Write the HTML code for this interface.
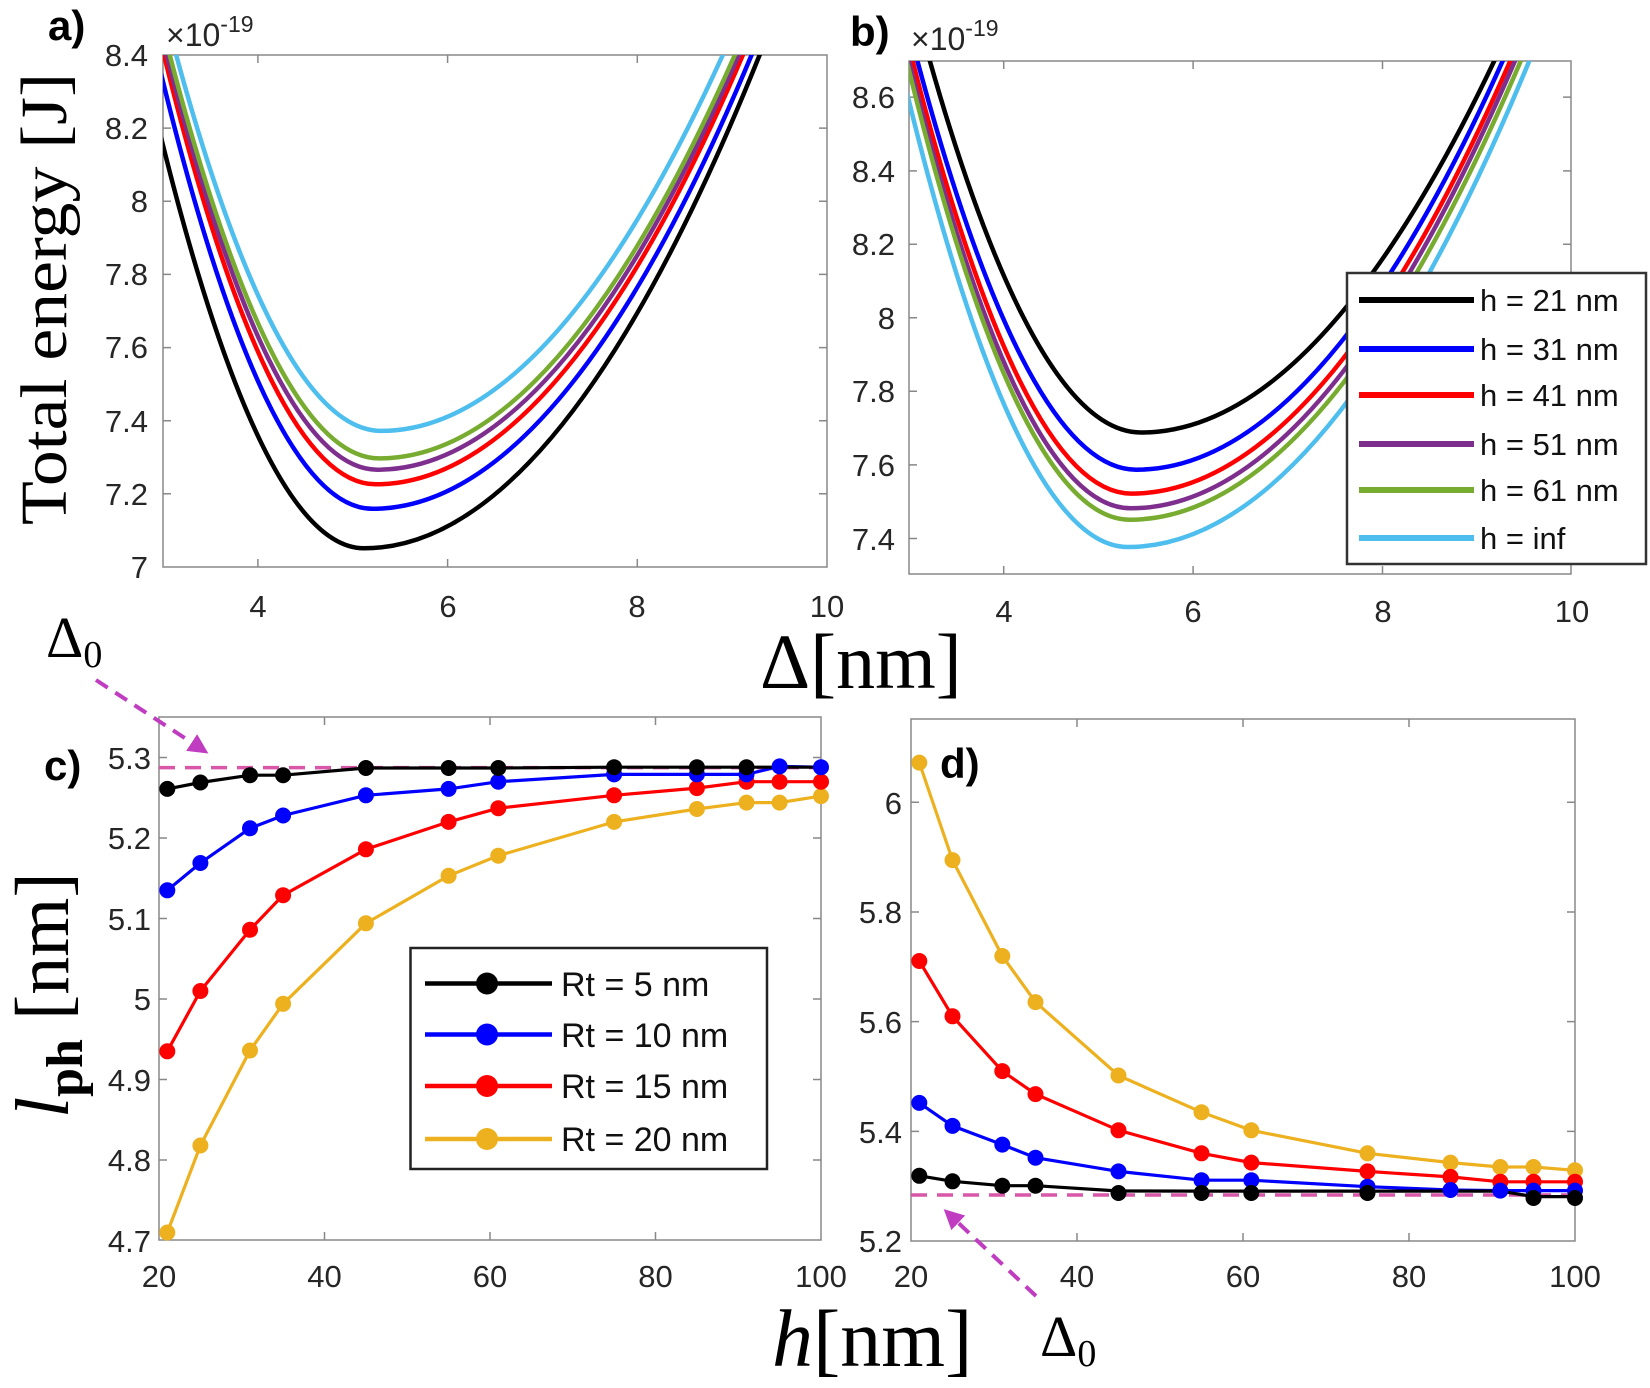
<!DOCTYPE html>
<html><head><meta charset="utf-8"><style>
html,body{margin:0;padding:0;background:#fff;}
svg{display:block;}
.tk{font-family:"Liberation Sans",sans-serif;font-size:31px;fill:#262626;}
.ser{font-family:"Liberation Serif",serif;fill:#000;}
.lg{font-family:"Liberation Sans",sans-serif;font-size:31px;fill:#111;}
.lab{font-family:"Liberation Sans",sans-serif;font-weight:bold;font-size:42px;fill:#000;}
</style></head><body>
<svg width="1650" height="1388" viewBox="0 0 1650 1388" xmlns="http://www.w3.org/2000/svg">
<defs>
<clipPath id="ca"><rect x="163" y="55" width="664" height="512"/></clipPath>
<clipPath id="cb"><rect x="909" y="61" width="662" height="513"/></clipPath>
<marker id="ah" markerWidth="5" markerHeight="5" refX="2.5" refY="2.5" orient="auto" markerUnits="strokeWidth"><path d="M0,0 L5,2.5 L0,5 z" fill="#c03cc0"/></marker>
</defs>

<!-- Panel a -->
<rect x="163" y="55" width="664" height="512" fill="#fff" stroke="#888" stroke-width="1.5"/>
<g stroke="#888" stroke-width="1.5">
<path d="M257.9,567v-8M447.6,567v-8M637.3,567v-8M257.9,55v8M447.6,55v8M637.3,55v8"/>
<path d="M163,128.1h8M163,201.3h8M163,274.4h8M163,347.6h8M163,420.7h8M163,493.8h8M827,128.1h-8M827,201.3h-8M827,274.4h-8M827,347.6h-8M827,420.7h-8M827,493.8h-8"/>
</g>
<g clip-path="url(#ca)" fill="none" stroke-width="4.5">
<path stroke="#000" d="M158.3,126.3 Q261.2,548.3 364.1,548.3 Q581.3,548.3 798.6,-47"/>
<path stroke="#0000ff" d="M158.3,62.3 Q265.4,508.8 372.6,508.8 Q585.6,508.8 798.6,-64.6"/>
<path stroke="#ff0000" d="M158.3,31.6 Q266.9,484.3 375.5,484.3 Q587,484.3 798.6,-85.1"/>
<path stroke="#7e2f8e" d="M158.3,21 Q267.8,469.7 377.4,469.7 Q588,469.7 798.6,-93.1"/>
<path stroke="#77ac30" d="M158.3,9.7 Q268.8,458.4 379.3,458.4 Q588.9,458.4 798.6,-102.6"/>
<path stroke="#4dbeee" d="M158.3,-13.4 Q269.7,430.9 381.2,430.9 Q589.9,430.9 798.6,-130.4"/>
</g>
<g class="tk" text-anchor="end">
<text x="148" y="66">8.4</text><text x="148" y="139">8.2</text><text x="148" y="212">8</text><text x="148" y="285">7.8</text><text x="148" y="358">7.6</text><text x="148" y="432">7.4</text><text x="148" y="505">7.2</text><text x="148" y="578">7</text>
</g>
<g class="tk" text-anchor="middle">
<text x="258" y="617">4</text><text x="448" y="617">6</text><text x="637" y="617">8</text><text x="827" y="617">10</text>
</g>
<text class="tk" x="166" y="46" style="font-size:32px">×10<tspan style="font-size:23px" dy="-14">-19</tspan></text>
<text class="lab" x="48" y="40">a)</text>
<text class="ser" font-size="66" transform="translate(66,525) rotate(-90)" textLength="452" lengthAdjust="spacingAndGlyphs">Total energy [J]</text>

<!-- Panel b -->
<rect x="909" y="61" width="662" height="513" fill="#fff" stroke="#888" stroke-width="1.5"/>
<g stroke="#888" stroke-width="1.5">
<path d="M1003.7,574v-8M1193.1,574v-8M1382.5,574v-8M1003.7,61v8M1193.1,61v8M1382.5,61v8"/>
<path d="M909,97.1h8M909,170.9h8M909,244.3h8M909,317.7h8M909,391.3h8M909,464.9h8M909,538.5h8M1571,97.1h-8M1571,170.9h-8M1571,244.3h-8M1571,317.7h-8M1571,391.3h-8M1571,464.9h-8M1571,538.5h-8"/>
</g>
<g clip-path="url(#cb)" fill="none" stroke-width="4.5">
<path stroke="#000" d="M904.3,-34.5 Q1022.6,432.5 1141,432.5 Q1342.3,432.5 1543.5,-49.9"/>
<path stroke="#0000ff" d="M904.3,10.4 Q1020.3,469.7 1136.3,469.7 Q1339.9,469.7 1543.5,-35.2"/>
<path stroke="#ff0000" d="M904.3,27.3 Q1017.9,493.6 1131.5,493.6 Q1337.5,493.6 1543.5,-18.3"/>
<path stroke="#7e2f8e" d="M904.3,41.7 Q1017.4,508.3 1130.6,508.3 Q1337,508.3 1543.5,-8"/>
<path stroke="#77ac30" d="M904.3,50.9 Q1017,519.7 1129.7,519.7 Q1336.6,519.7 1543.5,6"/>
<path stroke="#4dbeee" d="M904.3,81.8 Q1016,547 1127.8,547 Q1335.6,547 1543.5,25.9"/>
</g>
<g class="tk" text-anchor="end">
<text x="895" y="108">8.6</text><text x="895" y="182">8.4</text><text x="895" y="255">8.2</text><text x="895" y="329">8</text><text x="895" y="402">7.8</text><text x="895" y="476">7.6</text><text x="895" y="550">7.4</text>
</g>
<g class="tk" text-anchor="middle">
<text x="1004" y="622">4</text><text x="1193" y="622">6</text><text x="1383" y="622">8</text><text x="1572" y="622">10</text>
</g>
<text class="tk" x="911" y="50" style="font-size:32px">×10<tspan style="font-size:23px" dy="-14">-19</tspan></text>
<text class="lab" x="850" y="46">b)</text>
<!-- legend b -->
<rect x="1347" y="273" width="299" height="291" fill="#fff" stroke="#333" stroke-width="2.5"/>
<g stroke-width="6">
<path d="M1359,300h115" stroke="#000"/><path d="M1359,349h115" stroke="#0000ff"/><path d="M1359,395h115" stroke="#ff0000"/><path d="M1359,444h115" stroke="#7e2f8e"/><path d="M1359,490h115" stroke="#77ac30"/><path d="M1359,538h115" stroke="#4dbeee"/>
</g>
<g class="lg">
<text x="1480" y="311">h = 21 nm</text><text x="1480" y="360">h = 31 nm</text><text x="1480" y="406">h = 41 nm</text><text x="1480" y="455">h = 51 nm</text><text x="1480" y="501">h = 61 nm</text><text x="1480" y="549">h = inf</text>
</g>

<!-- Δ[nm] -->
<text class="ser" x="760" y="688" font-size="78">Δ[nm]</text>
<text class="ser" x="46" y="657" font-size="58">Δ<tspan font-size="38" dy="10">0</tspan></text>

<!-- Panel c -->
<rect x="159" y="717" width="662" height="523" fill="#fff" stroke="#888" stroke-width="1.5"/>
<g stroke="#888" stroke-width="1.5">
<path d="M324.5,1240v-8M490,1240v-8M655.5,1240v-8M324.5,717v8M490,717v8M655.5,717v8"/>
<path d="M159,757.5h8M159,838h8M159,918.5h8M159,999h8M159,1079.5h8M159,1160h8M821,757.5h-8M821,838h-8M821,918.5h-8M821,999h-8M821,1079.5h-8M821,1160h-8"/>
</g>
<path d="M96,680 L200,748" stroke="#c03cc0" stroke-width="4" stroke-dasharray="14,9" fill="none" marker-end="url(#ah)"/>
<path d="M159,767.6H821" stroke="#d957a8" stroke-width="3.5" stroke-dasharray="16,10"/>
<g fill="none" stroke-width="3.2">
<polyline stroke="#edb120" points="167.3,1232.5 200.4,1145.5 250,1050.5 283.1,1003.8 365.9,923.3 448.6,875.8 498.3,855.7 614.1,821.9 696.9,809 746.5,802.6 779.6,802.6 821,796.1"/>
<polyline stroke="#ff0000" points="167.3,1051.3 200.4,991 250,929.8 283.1,895.2 365.9,849.3 448.6,821.9 498.3,808.2 614.1,795.3 696.9,788.1 746.5,781.7 779.6,781.7 821,781.7"/>
<polyline stroke="#0000ff" points="167.3,890.3 200.4,863 250,828.3 283.1,815.5 365.9,795.3 448.6,788.9 498.3,781.7 614.1,774.4 696.9,774.4 746.5,774.4 779.6,766.4 821,767.2"/>
<polyline stroke="#000" points="167.3,788.9 200.4,782.5 250,775.2 283.1,775.2 365.9,768 448.6,768 498.3,768 614.1,767.2 696.9,767.2 746.5,767.2 779.6,767.2 821,767.2"/>
</g>
<g fill="#edb120"><circle cx="167.3" cy="1232.5" r="8"/><circle cx="200.4" cy="1145.5" r="8"/><circle cx="250" cy="1050.5" r="8"/><circle cx="283.1" cy="1003.8" r="8"/><circle cx="365.9" cy="923.3" r="8"/><circle cx="448.6" cy="875.8" r="8"/><circle cx="498.3" cy="855.7" r="8"/><circle cx="614.1" cy="821.9" r="8"/><circle cx="696.9" cy="809" r="8"/><circle cx="746.5" cy="802.6" r="8"/><circle cx="779.6" cy="802.6" r="8"/><circle cx="821" cy="796.1" r="8"/></g>
<g fill="#ff0000"><circle cx="167.3" cy="1051.3" r="8"/><circle cx="200.4" cy="991" r="8"/><circle cx="250" cy="929.8" r="8"/><circle cx="283.1" cy="895.2" r="8"/><circle cx="365.9" cy="849.3" r="8"/><circle cx="448.6" cy="821.9" r="8"/><circle cx="498.3" cy="808.2" r="8"/><circle cx="614.1" cy="795.3" r="8"/><circle cx="696.9" cy="788.1" r="8"/><circle cx="746.5" cy="781.7" r="8"/><circle cx="779.6" cy="781.7" r="8"/><circle cx="821" cy="781.7" r="8"/></g>
<g fill="#0000ff"><circle cx="167.3" cy="890.3" r="8"/><circle cx="200.4" cy="863" r="8"/><circle cx="250" cy="828.3" r="8"/><circle cx="283.1" cy="815.5" r="8"/><circle cx="365.9" cy="795.3" r="8"/><circle cx="448.6" cy="788.9" r="8"/><circle cx="498.3" cy="781.7" r="8"/><circle cx="614.1" cy="774.4" r="8"/><circle cx="696.9" cy="774.4" r="8"/><circle cx="746.5" cy="774.4" r="8"/><circle cx="779.6" cy="766.4" r="8"/><circle cx="821" cy="767.2" r="8"/></g>
<g fill="#000"><circle cx="167.3" cy="788.9" r="8"/><circle cx="200.4" cy="782.5" r="8"/><circle cx="250" cy="775.2" r="8"/><circle cx="283.1" cy="775.2" r="8"/><circle cx="365.9" cy="768" r="8"/><circle cx="448.6" cy="768" r="8"/><circle cx="498.3" cy="768" r="8"/><circle cx="614.1" cy="767.2" r="8"/><circle cx="696.9" cy="767.2" r="8"/><circle cx="746.5" cy="767.2" r="8"/></g>
<g class="tk" text-anchor="end">
<text x="151" y="769">5.3</text><text x="151" y="849">5.2</text><text x="151" y="930">5.1</text><text x="151" y="1010">5</text><text x="151" y="1091">4.9</text><text x="151" y="1171">4.8</text><text x="151" y="1252">4.7</text>
</g>
<g class="tk" text-anchor="middle">
<text x="159" y="1287">20</text><text x="324.5" y="1287">40</text><text x="490" y="1287">60</text><text x="655.5" y="1287">80</text><text x="821" y="1287">100</text>
</g>
<text class="lab" x="44" y="780">c)</text>
<g transform="translate(68,1118) rotate(-90)">
<text class="ser" font-size="76"><tspan font-style="italic">l</tspan><tspan font-size="52" dy="14" font-weight="bold">ph</tspan><tspan dy="-14"> [nm]</tspan></text>
</g>
<!-- legend c -->
<rect x="410.5" y="948" width="356.5" height="221" fill="#fff" stroke="#222" stroke-width="2.5"/>
<g stroke-width="4.5">
<path d="M425,983.5h127" stroke="#000"/><path d="M425,1034.5h127" stroke="#0000ff"/><path d="M425,1086h127" stroke="#ff0000"/><path d="M425,1139h127" stroke="#edb120"/>
</g>
<circle cx="487" cy="983.5" r="11" fill="#000"/><circle cx="487" cy="1034.5" r="11" fill="#0000ff"/><circle cx="487" cy="1086" r="11" fill="#ff0000"/><circle cx="487" cy="1139" r="11" fill="#edb120"/>
<g class="lg">
<text x="561" y="996" style="font-size:34px">Rt = 5 nm</text><text x="561" y="1047" style="font-size:34px">Rt = 10 nm</text><text x="561" y="1098" style="font-size:34px">Rt = 15 nm</text><text x="561" y="1151" style="font-size:34px">Rt = 20 nm</text>
</g>

<!-- Panel d -->
<rect x="911" y="719" width="664" height="522" fill="#fff" stroke="#888" stroke-width="1.5"/>
<g stroke="#888" stroke-width="1.5">
<path d="M1077,1241v-8M1243,1241v-8M1409,1241v-8M1077,719v8M1243,719v8M1409,719v8"/>
<path d="M911,802.3h8M911,912h8M911,1021.6h8M911,1131.4h8M1575,802.3h-8M1575,912h-8M1575,1021.6h-8M1575,1131.4h-8"/>
</g>
<path d="M911,1195H1575" stroke="#d957a8" stroke-width="3.5" stroke-dasharray="16,10"/>
<g fill="none" stroke-width="3.2">
<polyline stroke="#edb120" points="919.3,762.6 952.5,860.1 1002.3,956 1035.5,1002.1 1118.5,1075.5 1201.5,1112.2 1251.3,1130.3 1367.5,1153.3 1450.5,1162.6 1500.3,1167 1533.5,1167 1575,1170.3"/>
<polyline stroke="#ff0000" points="919.3,961 952.5,1016.3 1002.3,1071.1 1035.5,1094.1 1118.5,1130.3 1201.5,1153.3 1251.3,1162.6 1367.5,1171.4 1450.5,1176.9 1500.3,1181.8 1533.5,1181.8 1575,1181.8"/>
<polyline stroke="#0000ff" points="919.3,1102.9 952.5,1125.9 1002.3,1144.6 1035.5,1157.7 1118.5,1171.4 1201.5,1180.2 1251.3,1180.2 1367.5,1186.7 1450.5,1190 1500.3,1190.6 1533.5,1190.6 1575,1190.6"/>
<polyline stroke="#000" points="919.3,1175.8 952.5,1181.3 1002.3,1185.7 1035.5,1185.7 1118.5,1191 1201.5,1191.1 1251.3,1191.1 1367.5,1191.1 1450.5,1191.1 1500.3,1191.1 1533.5,1196.6 1575,1196.6"/>
</g>
<g fill="#edb120"><circle cx="919.3" cy="762.6" r="8"/><circle cx="952.5" cy="860.1" r="8"/><circle cx="1002.3" cy="956" r="8"/><circle cx="1035.5" cy="1002.1" r="8"/><circle cx="1118.5" cy="1075.5" r="8"/><circle cx="1201.5" cy="1112.2" r="8"/><circle cx="1251.3" cy="1130.3" r="8"/><circle cx="1367.5" cy="1153.3" r="8"/><circle cx="1450.5" cy="1162.6" r="8"/><circle cx="1500.3" cy="1167" r="8"/><circle cx="1533.5" cy="1167" r="8"/><circle cx="1575" cy="1170.3" r="8"/></g>
<g fill="#ff0000"><circle cx="919.3" cy="961" r="8"/><circle cx="952.5" cy="1016.3" r="8"/><circle cx="1002.3" cy="1071.1" r="8"/><circle cx="1035.5" cy="1094.1" r="8"/><circle cx="1118.5" cy="1130.3" r="8"/><circle cx="1201.5" cy="1153.3" r="8"/><circle cx="1251.3" cy="1162.6" r="8"/><circle cx="1367.5" cy="1171.4" r="8"/><circle cx="1450.5" cy="1176.9" r="8"/><circle cx="1500.3" cy="1181.8" r="8"/><circle cx="1533.5" cy="1181.8" r="8"/><circle cx="1575" cy="1181.8" r="8"/></g>
<g fill="#0000ff"><circle cx="919.3" cy="1102.9" r="8"/><circle cx="952.5" cy="1125.9" r="8"/><circle cx="1002.3" cy="1144.6" r="8"/><circle cx="1035.5" cy="1157.7" r="8"/><circle cx="1118.5" cy="1171.4" r="8"/><circle cx="1201.5" cy="1180.2" r="8"/><circle cx="1251.3" cy="1180.2" r="8"/><circle cx="1367.5" cy="1186.7" r="8"/><circle cx="1450.5" cy="1190" r="8"/><circle cx="1500.3" cy="1190.6" r="8"/><circle cx="1533.5" cy="1190.6" r="8"/><circle cx="1575" cy="1190.6" r="8"/></g>
<g fill="#000"><circle cx="919.3" cy="1175.8" r="8"/><circle cx="952.5" cy="1181.3" r="8"/><circle cx="1002.3" cy="1185.7" r="8"/><circle cx="1035.5" cy="1185.7" r="8"/><circle cx="1118.5" cy="1193" r="8"/><circle cx="1201.5" cy="1193" r="8"/><circle cx="1251.3" cy="1193" r="8"/><circle cx="1367.5" cy="1193" r="8"/><circle cx="1533.5" cy="1198" r="8"/><circle cx="1575" cy="1198" r="8"/></g>
<g class="tk" text-anchor="end">
<text x="902" y="814">6</text><text x="902" y="923">5.8</text><text x="902" y="1033">5.6</text><text x="902" y="1143">5.4</text><text x="902" y="1252">5.2</text>
</g>
<g class="tk" text-anchor="middle">
<text x="911" y="1287">20</text><text x="1077" y="1287">40</text><text x="1243" y="1287">60</text><text x="1409" y="1287">80</text><text x="1575" y="1287">100</text>
</g>
<text class="lab" x="940" y="778">d)</text>
<path d="M1036,1296 L951,1216" stroke="#c03cc0" stroke-width="4" stroke-dasharray="14,9" fill="none" marker-end="url(#ah)"/>
<text class="ser" x="1040" y="1356" font-size="58">Δ<tspan font-size="38" dy="10">0</tspan></text>

<text class="ser" x="772" y="1366" font-size="82"><tspan font-style="italic">h</tspan>[nm]</text>
</svg>
</body></html>
